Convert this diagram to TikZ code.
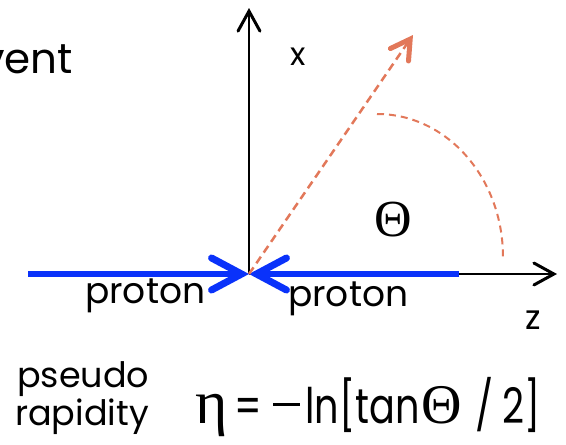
\documentclass[tikz,border=0pt]{standalone}
\usepackage{fontspec}
\setmainfont{Poppins}
\newfontfamily\grk{Liberation Serif}
\newfontfamily\eqfont[FakeStretch=0.78]{Poppins}
\usetikzlibrary{arrows.meta}
\definecolor{pblue}{RGB}{10,50,250}
\definecolor{porange}{RGB}{226,120,90}
\tikzset{
  lbl/.style={inner sep=0pt, anchor=base west, font=\fontsize{35}{38}\selectfont},
  axis/.style={line width=1.6pt, -{Straight Barb[length=20pt,width=22pt,line width=3pt,line cap=round]}},
  beam/.style={pblue, line width=6pt, -{Straight Barb[length=30pt,width=32pt,line width=7pt,line cap=round]}},
  track/.style={porange, line width=2.5pt, dash pattern=on 8pt off 5pt, -{Straight Barb[length=19pt,width=22pt,line width=5pt,line cap=round]}},
  anglearc/.style={porange, line width=2pt, dash pattern=on 7pt off 5pt}
}
\begin{document}
\begin{tikzpicture}[x=1pt,y=-1pt]
\useasboundingbox (0,0) rectangle (566,445);
\clip (0,0) rectangle (566,445);
\coordinate (O) at (249,274);
\coordinate (xtip) at (249,8);
\coordinate (ztip) at (557,274);
\coordinate (lstart) at (28,274);
\coordinate (rstart) at (459,274);
\coordinate (ptip) at (413,35);
\coordinate (a1) at (377,114);
\coordinate (a2) at (503,257);
% axes
\draw[axis] (O) -- (xtip);
\draw[axis] (O) -- (ztip);
% beams
\draw[beam] (lstart) -- (O);
\draw[beam] (rstart) -- (O);
% track
\draw[track] (O) -- (ptip);
\draw[anglearc] (a1) .. controls (447,114) and (503,178) .. (a2);
% labels
\node[lbl, anchor=base east, font=\fontsize{42}{46}\selectfont] (ev) at (73,73) {event};
\node[lbl, anchor=base, font=\fontsize{32}{34}\selectfont] (xl) at (298,65) {x};
\node[lbl, anchor=base, font=\fontsize{34}{36}\selectfont] (zl) at (533,329) {z};
\node[lbl, anchor=base, font=\fontsize{52}{54}\selectfont\grk] (th) at (393,236) {Θ};
\node[lbl, font=\fontsize{36}{40}\selectfont] (p1) at (85,303) {proton};
\node[lbl, font=\fontsize{36}{40}\selectfont] (p2) at (288,306) {proton};
\node[lbl] (ps) at (17,387) {pseudo};
\node[lbl] (ra) at (15,425) {rapidity};
\node[lbl, font=\eqfont\fontsize{49}{56}\selectfont] (eq) at (195,423)
  {{\grk\fontsize{62}{64}\selectfont η}\hspace{7pt}=\hspace{11pt}\rule[17pt]{27pt}{3.5pt}\hspace{5pt}ln[tan\hspace{2pt}{\grk\fontsize{56}{58}\selectfont Θ}\hspace{14pt}/\hspace{8pt}2]};
\end{tikzpicture}
\end{document}
